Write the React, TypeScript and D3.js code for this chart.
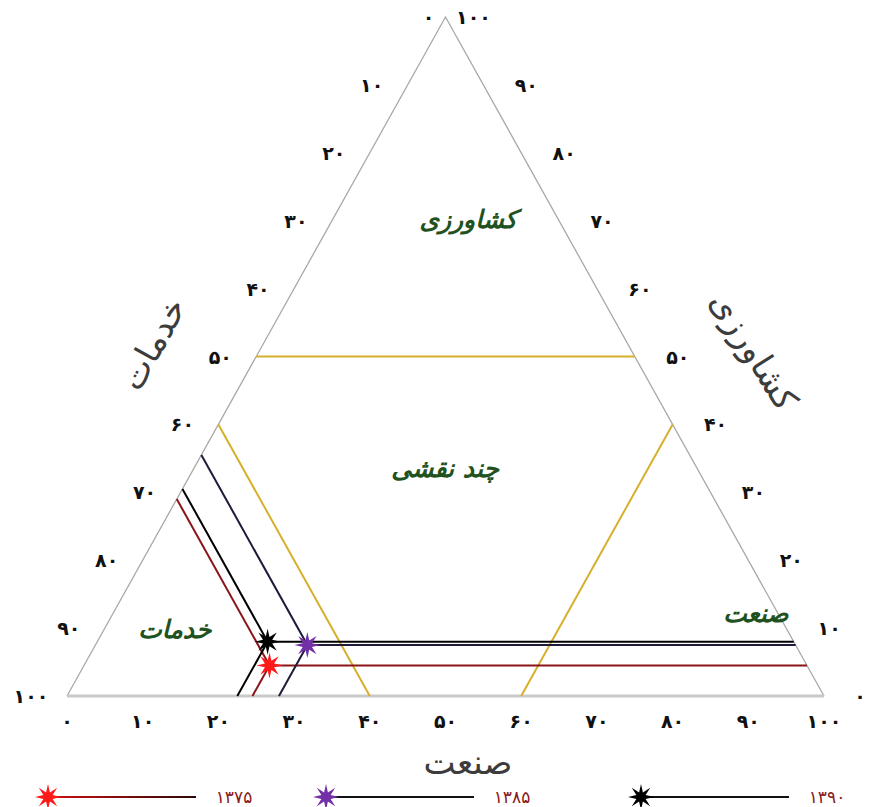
import React from 'react';
import * as d3 from 'd3';

// tick values (shared by the three sides)
const TICKS = [0, 10, 20, 30, 40, 50, 60, 70, 80, 90, 100];

// series: one point per year (percent shares)
const YEARS = ['۱۳۷۵', '۱۳۸۵', '۱۳۹۰'];
const AGRICULTURE = [4.5, 7.5, 8];
const INDUSTRY = [24.5, 28, 22.5];
const SERVICES = [71, 64.5, 69.5];

// zone borders
const AGRI_LIMIT = 50;
const SERVICES_LIMIT = 60;
const INDUSTRY_LIMIT = 60;

const REGION_NAMES = ['کشاورزی', 'چند نقشی', 'خدمات', 'صنعت'];
const AXIS_TITLES = ['خدمات', 'کشاورزی', 'صنعت'];

const W = 871, H = 807;
const LEFT = 67, RIGHT = 824, TOP = 17, BASE = 696;

const STAR_FILL = ['#ff1a1a', '#7330a6', '#000000'];
const LINE_COLOR = ['#8a1418', '#1d1a3a', '#000000'];
const ZONE_COLOR = '#d6b02a';
const REGION_COLOR = '#1f521f';
const FONT = '"DejaVu Sans", sans-serif';

const FA = '۰۱۲۳۴۵۶۷۸۹';
const toFa = (n: number) => String(n).replace(/\d/g, d => FA[+d]);

const starPath = (outer: number, inner: number, n = 8) => {
  const pts: [number, number][] = [];
  for (let k = 0; k < n * 2; k++) pts.push([(Math.PI * k) / n, k % 2 === 0 ? outer : inner]);
  return d3.lineRadial().curve(d3.curveLinearClosed)(pts) as string;
};

export default function App() {
  const xs = d3.scaleLinear().domain([0, 100]).range([LEFT, RIGHT]);
  const ys = d3.scaleLinear().domain([0, 100]).range([BASE, TOP]);
  // ternary -> screen (agriculture up, industry to the right)
  const pt = (agri: number, ind: number): [number, number] => [xs(ind + agri / 2), ys(agri)];
  const line = d3.line();

  const star = starPath(13, 5);

  const triangle = line([pt(0, 0), pt(100, 0), pt(0, 100)]) as string;

  const zoneLines = [
    [pt(AGRI_LIMIT, 0), pt(AGRI_LIMIT, 100 - AGRI_LIMIT)],
    [pt(100 - SERVICES_LIMIT, 0), pt(0, 100 - SERVICES_LIMIT)],
    [pt(0, INDUSTRY_LIMIT), pt(100 - INDUSTRY_LIMIT, INDUSTRY_LIMIT)],
  ];

  const regionAnchors: [number, number][] = [pt(70, 18), pt(33.3, 33.3), pt(9.5, 9.5), pt(12, 85)];

  const legendX = [48, 326, 641];
  const legendY = 797;

  return (
    <svg width={W} height={H} style={{ position: 'absolute', left: 0, top: 0, background: '#fff' }}>
      <defs>
        <linearGradient id="redLeg" gradientUnits="userSpaceOnUse" x1={legendX[0]} x2={legendX[0] + 150}
          y1={legendY} y2={legendY}>
          <stop offset="0" stopColor="#d01010" />
          <stop offset="1" stopColor="#2a0808" />
        </linearGradient>
      </defs>

      {/* triangle */}
      <path d={triangle} fill="none" stroke="#a8a8a8" strokeWidth={1.3} />
      <line x1={xs(0)} x2={xs(100)} y1={BASE} y2={BASE} stroke="#c9c9c9" strokeWidth={3} />

      {/* zone borders */}
      {zoneLines.map((l, k) => (
        <path key={k} d={line(l) as string} stroke={ZONE_COLOR} strokeWidth={2} fill="none" />
      ))}

      {/* bottom ticks: industry */}
      {TICKS.map(t => (
        <text key={'b' + t} x={xs(t)} y={728} textAnchor="middle" fontFamily={FONT}
          fontWeight="bold" fontSize={19} fill="#111">{toFa(t)}</text>
      ))}
      {/* left ticks: services */}
      {TICKS.map(t => {
        const [x, y] = pt(100 - t, 0);
        const off = t === 0 ? 17 : 36;
        return (
          <text key={'l' + t} x={x - off} y={y + 7} textAnchor="middle" fontFamily={FONT}
            fontWeight="bold" fontSize={19} fill="#111">{toFa(t)}</text>
        );
      })}
      {/* right ticks: agriculture */}
      {TICKS.map(t => {
        const [x, y] = pt(t, 100 - t);
        const off = t === 100 ? 28 : t === 0 ? 36 : 43;
        return (
          <text key={'r' + t} x={x + off} y={y + 7} textAnchor="middle" fontFamily={FONT}
            fontWeight="bold" fontSize={19} fill="#111">{toFa(t)}</text>
        );
      })}

      {/* axis titles */}
      <text transform="translate(155,345) rotate(-61)" textAnchor="middle" fontFamily={FONT}
        fontSize={34} fill="#3c3c3c" dominantBaseline="middle">{AXIS_TITLES[0]}</text>
      <text transform="translate(752,352) rotate(58)" textAnchor="middle" fontFamily={FONT}
        fontSize={34} fill="#3c3c3c" dominantBaseline="middle">{AXIS_TITLES[1]}</text>
      <text x={468} y={764} textAnchor="middle" fontFamily={FONT} fontSize={34} fill="#3c3c3c"
        dominantBaseline="middle">{AXIS_TITLES[2]}</text>

      {/* region names */}
      {REGION_NAMES.map((name, k) => (
        <text key={name + k} x={regionAnchors[k][0]} y={regionAnchors[k][1]} textAnchor="middle"
          dominantBaseline="middle" fontFamily={FONT} fontWeight="bold" fontStyle="italic"
          fontSize={25} fill={REGION_COLOR}>{name}</text>
      ))}

      {/* series guide lines */}
      {YEARS.map((yr, k) => {
        const a = AGRICULTURE[k], i = INDUSTRY[k], s = SERVICES[k];
        const p = pt(a, i);
        const ends = [pt(a, 100 - a), pt(100 - s, 0), pt(0, i)];
        return (
          <g key={'g' + yr}>
            {ends.map((e, j) => (
              <path key={j} d={line([p, e]) as string} stroke={LINE_COLOR[k]} strokeWidth={2} fill="none" />
            ))}
          </g>
        );
      })}
      {YEARS.map((yr, k) => {
        const [x, y] = pt(AGRICULTURE[k], INDUSTRY[k]);
        return <path key={'s' + yr} d={star} transform={`translate(${x},${y})`} fill={STAR_FILL[k]} />;
      })}

      {/* legend */}
      {YEARS.map((yr, k) => {
        const x = legendX[k];
        const y = legendY;
        return (
          <g key={'lg' + yr}>
            <line x1={x + 8} x2={x + 148} y1={y} y2={y} strokeWidth={2}
              stroke={k === 0 ? 'url(#redLeg)' : '#111'} />
            <path d={star} transform={`translate(${x},${y})`} fill={STAR_FILL[k]} />
            <text x={x + 186} y={y + 6} textAnchor="middle" fontFamily={FONT} fontSize={17}
              fill="#8a1a1a">{yr}</text>
          </g>
        );
      })}
    </svg>
  );
}
